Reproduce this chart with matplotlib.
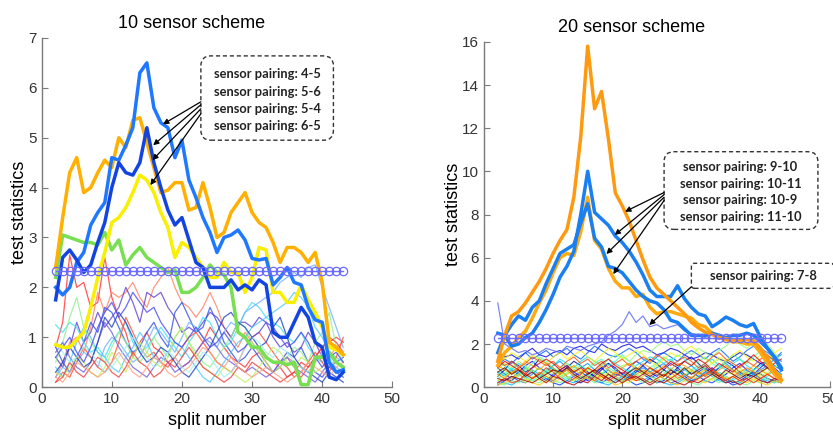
import numpy as np
import matplotlib.pyplot as plt
from matplotlib.patches import FancyBboxPatch

plt.rcParams['font.family'] = ['Liberation Sans', 'DejaVu Sans']

# split numbers shared by every series
splits = np.arange(2, 44)

# ---------------- 10 sensor scheme ----------------
left_thresh = 2.33
left_main = {
    'blue_45': [2.0, 1.85, 2.0, 2.5, 2.7, 3.25, 3.5, 3.7, 4.6, 4.55, 4.85, 5.2, 6.3, 6.5, 5.6, 5.3, 5.2, 4.6, 4.95,
                4.15, 3.8, 3.4, 3.1, 2.7, 3.0, 3.05, 3.15, 2.95, 2.58, 2.55, 2.58, 2.05, 2.2, 2.4, 2.1, 2.05, 1.6,
                1.35, 1.3, 0.5, 0.3, 0.35],
    'dblue_56': [1.75, 2.6, 2.75, 2.55, 2.3, 2.45, 2.9, 3.3, 4.0, 4.5, 4.3, 4.25, 4.5, 5.2, 4.5, 4.0, 3.55, 3.25, 3.4,
                 2.95, 2.5, 2.4, 2.0, 2.0, 2.0, 2.15, 1.95, 2.05, 1.95, 2.15, 2.05, 1.1, 1.0, 1.0, 1.3, 1.6, 1.4,
                 0.9, 0.8, 0.2, 0.15, 0.3],
    'orange': [2.4, 3.4, 4.3, 4.6, 3.9, 4.0, 4.3, 4.55, 4.4, 5.0, 4.8, 5.35, 5.4, 4.9, 4.4, 3.9, 3.95, 4.1, 4.1, 3.55,
               3.6, 4.1, 3.6, 3.0, 3.1, 3.5, 3.7, 3.9, 3.5, 3.3, 3.2, 2.9, 2.5, 2.8, 2.8, 2.7, 2.5, 2.7, 2.1, 0.9,
               0.8, 0.65],
    'yellow': [0.85, 0.8, 0.8, 0.95, 1.1, 1.6, 2.2, 2.7, 3.3, 3.4, 3.6, 3.9, 4.25, 4.15, 3.9, 3.5, 3.2, 2.6, 2.9, 2.8,
               2.6, 2.4, 2.2, 2.2, 2.5, 2.3, 2.3, 1.9, 2.2, 2.8, 2.75, 1.9, 1.9, 1.7, 1.7, 2.05, 1.75, 1.5, 1.2, 0.8,
               0.75, 0.65],
    'green': [2.2, 3.05, 3.0, 2.95, 2.9, 2.9, 2.85, 3.1, 2.75, 2.95, 2.45, 2.65, 2.8, 2.6, 2.5, 2.4, 2.3, 2.35, 1.9,
              1.9, 2.0, 2.2, 2.45, 2.3, 2.25, 2.0, 1.1, 1.0, 0.8, 0.8, 0.6, 0.5, 0.5, 0.45, 0.5, 0.05, 0.05, 0.6,
              0.6, 0.7, 0.5, 0.4],
}
left_main_colors = {'blue_45': '#1f78ff', 'dblue_56': '#1444e0', 'orange': '#ffb000',
                    'yellow': '#f8f000', 'green': '#78e050'}

left_thin = [
    [0.8, 1.3, 2.65, 2.0, 2.1, 1.6, 1.7, 2.6, 1.8, 1.4, 1.1, 0.6, 0.9, 1.1, 0.8, 0.7, 0.5, 0.6, 0.4, 0.5, 0.7, 0.9, 1.2, 1.0, 0.8, 0.6, 0.5, 0.4, 0.6, 0.7, 0.5, 0.3, 0.4, 0.2, 0.3, 0.5, 0.4, 0.6, 0.8, 0.9, 1.0, 0.9],
    [0.2, 0.5, 0.9, 1.0, 0.7, 1.2, 1.9, 1.5, 1.9, 1.8, 1.9, 2.1, 1.8, 1.6, 2.0, 2.2, 2.4, 2.0, 1.7, 1.6, 1.4, 1.6, 1.9, 1.6, 1.2, 1.0, 0.8, 1.1, 0.9, 0.7, 0.6, 0.5, 0.4, 0.6, 0.5, 0.4, 0.3, 0.5, 0.7, 0.6, 0.8, 0.9],
    [0.6, 0.4, 0.8, 1.3, 0.9, 1.1, 1.5, 1.2, 1.4, 1.6, 2.0, 1.7, 1.3, 1.9, 1.8, 1.9, 1.6, 1.4, 1.1, 1.2, 1.1, 1.3, 1.5, 1.4, 1.2, 1.0, 1.3, 1.3, 1.2, 1.4, 1.3, 1.0, 0.8, 0.9, 0.7, 0.8, 1.1, 0.9, 0.6, 0.4, 0.5, 0.6],
    [0.8, 0.5, 0.3, 0.6, 0.9, 1.3, 1.1, 1.6, 1.5, 1.2, 0.9, 0.7, 0.8, 1.1, 1.3, 1.0, 0.8, 1.5, 1.7, 1.4, 1.1, 1.2, 1.6, 1.3, 0.9, 0.7, 0.5, 0.6, 0.8, 0.6, 0.4, 0.3, 0.5, 0.7, 0.6, 0.8, 0.5, 0.3, 0.2, 0.4, 0.3, 0.2],
    [1.25, 1.1, 1.3, 1.2, 0.9, 0.7, 0.8, 0.6, 0.9, 1.1, 1.3, 0.9, 0.7, 0.8, 1.0, 1.2, 1.0, 0.8, 0.6, 0.9, 1.1, 1.4, 1.3, 1.0, 0.8, 0.9, 1.2, 1.5, 1.7, 1.6, 1.4, 1.3, 1.2, 1.0, 0.9, 1.1, 0.8, 0.6, 0.5, 0.7, 0.6, 0.5],
    [0.2, 0.4, 0.3, 0.5, 0.7, 0.6, 0.4, 0.8, 1.0, 0.9, 0.7, 0.5, 0.6, 0.9, 1.2, 1.1, 0.9, 0.7, 1.0, 1.3, 1.2, 1.0, 0.9, 0.8, 1.1, 1.3, 1.2, 1.5, 1.6, 1.7, 1.8, 1.9, 2.1, 2.2, 2.3, 2.2, 2.4, 2.45, 2.0, 1.6, 1.2, 0.8],
    [0.5, 0.9, 1.4, 1.8, 1.2, 0.9, 0.7, 0.5, 0.8, 1.1, 0.9, 0.6, 0.5, 0.7, 1.0, 0.8, 0.6, 1.0, 1.2, 0.9, 0.7, 0.5, 0.4, 0.6, 0.8, 1.0, 1.3, 1.2, 0.9, 0.7, 0.5, 0.3, 0.4, 0.6, 0.8, 0.7, 0.5, 0.9, 1.1, 1.5, 0.8, 0.5],
    [0.1, 0.3, 0.2, 0.5, 0.8, 0.6, 0.4, 0.3, 0.5, 0.9, 1.4, 1.1, 0.8, 0.6, 0.7, 0.5, 0.4, 0.6, 0.8, 1.0, 1.1, 0.9, 0.7, 0.5, 0.4, 0.3, 0.5, 0.8, 1.0, 1.1, 0.9, 0.7, 0.5, 0.4, 0.2, 0.3, 0.5, 0.7, 0.5, 0.3, 0.6, 1.0],
    [0.7, 0.9, 0.6, 0.4, 0.3, 0.5, 0.9, 1.3, 1.1, 0.8, 0.6, 0.4, 0.3, 0.2, 0.4, 0.6, 0.5, 0.3, 0.4, 0.5, 0.7, 0.9, 1.0, 0.8, 0.6, 0.5, 0.4, 0.3, 0.4, 0.3, 0.2, 0.3, 0.5, 0.6, 0.4, 0.3, 0.2, 0.1, 0.3, 0.5, 0.4, 0.3],
    [0.4, 0.2, 0.5, 0.9, 1.2, 1.0, 0.7, 0.6, 0.4, 0.3, 0.6, 0.8, 1.1, 0.9, 0.6, 0.5, 0.7, 0.9, 0.8, 0.6, 0.4, 0.2, 0.1, 0.3, 0.5, 0.7, 0.9, 1.0, 1.2, 1.3, 1.4, 1.5, 1.6, 1.7, 1.9, 1.8, 1.6, 1.2, 1.0, 0.7, 0.5, 0.4],
    [0.3, 0.2, 0.4, 0.6, 0.5, 0.3, 0.2, 0.4, 0.7, 0.5, 0.3, 0.6, 0.9, 0.7, 0.5, 0.4, 0.6, 1.0, 1.2, 0.9, 0.6, 0.4, 0.3, 0.2, 0.4, 0.3, 0.2, 0.1, 0.2, 0.4, 0.6, 0.8, 0.7, 0.5, 0.4, 0.6, 0.5, 0.3, 0.4, 0.6, 0.5, 0.4],
    [0.1, 0.2, 0.5, 0.3, 0.2, 0.4, 0.6, 0.5, 0.3, 0.2, 0.4, 0.7, 0.5, 0.4, 0.2, 0.3, 0.5, 0.4, 0.6, 0.8, 0.6, 0.4, 0.3, 0.2, 0.1, 0.2, 0.4, 0.3, 0.5, 0.4, 0.3, 0.2, 0.1, 0.2, 0.3, 0.2, 0.4, 0.6, 0.8, 1.0, 0.9, 0.7],
    [0.3, 0.5, 0.8, 0.6, 0.4, 0.5, 0.9, 1.4, 1.2, 1.5, 1.3, 1.0, 0.7, 0.5, 0.6, 0.8, 0.7, 0.5, 0.3, 0.2, 0.4, 0.6, 0.8, 1.1, 1.4, 1.5, 1.3, 1.2, 1.0, 0.8, 0.9, 1.2, 1.4, 1.0, 0.6, 0.4, 0.3, 0.2, 0.1, 0.3, 0.2, 0.1],
    [0.9, 0.7, 0.5, 0.6, 0.8, 0.7, 0.5, 0.3, 0.4, 0.6, 0.8, 1.0, 0.8, 0.6, 0.4, 0.5, 0.7, 0.6, 0.4, 0.3, 0.5, 0.7, 0.6, 0.4, 0.2, 0.3, 0.5, 0.8, 1.0, 0.9, 0.7, 0.6, 0.8, 0.7, 0.5, 0.4, 0.3, 0.5, 0.7, 0.6, 0.4, 0.3],
    [0.2, 0.1, 0.3, 0.5, 0.4, 0.3, 0.2, 0.3, 0.5, 0.7, 0.5, 0.3, 0.2, 0.4, 0.6, 0.5, 0.3, 0.2, 0.3, 0.4, 0.6, 0.8, 0.7, 0.5, 0.4, 0.6, 0.4, 0.3, 0.2, 0.3, 0.4, 0.3, 0.2, 0.1, 0.2, 0.3, 0.5, 0.4, 0.3, 0.2, 0.4, 0.5],
    [0.6, 0.8, 1.0, 0.7, 0.5, 0.8, 1.2, 1.5, 1.7, 1.4, 1.6, 1.9, 1.7, 1.5, 1.6, 1.3, 1.1, 0.9, 0.8, 1.0, 1.2, 1.0, 0.8, 0.9, 1.1, 0.9, 0.7, 0.8, 1.0, 1.1, 1.3, 1.2, 1.0, 0.8, 0.9, 1.1, 0.9, 0.6, 0.4, 0.6, 0.7, 0.5],
]
left_thin_colors = ['#ff3030', '#ff8060', '#6040d0', '#3050e0', '#40e0f0', '#70b0ff', '#90f090', '#ff5030',
                    '#7060e0', '#50c8ff', '#c0f060', '#f04040', '#2040c0', '#a0f0f0', '#ffa080', '#4848f0']
left_labels = ['sensor pairing: 4-5', 'sensor pairing: 5-6', 'sensor pairing: 5-4', 'sensor pairing: 6-5']

# ---------------- 20 sensor scheme ----------------
right_thresh = 2.3
right_main = {
    'orange_big': [1.2, 2.4, 3.3, 3.5, 3.9, 4.4, 4.9, 5.5, 6.2, 6.8, 7.3, 8.8, 11.6, 15.8, 12.9, 13.7, 11.5, 9.0, 8.4,
                   7.7, 6.8, 5.9, 5.1, 4.6, 4.3, 4.0, 3.7, 3.4, 3.0, 2.75, 2.55, 2.45, 2.3, 2.25, 2.2, 2.2, 2.2,
                   2.15, 1.8, 1.35, 0.8, 0.35],
    'blue_peak': [1.6, 2.4, 1.9, 2.0, 2.3, 2.5, 3.0, 3.6, 4.3, 5.1, 5.6, 6.3, 8.0, 10.0, 8.1, 7.8, 7.5, 7.0, 6.7, 6.3,
                  5.8, 5.2, 4.5, 4.2, 4.2, 4.2, 4.7, 4.1, 3.7, 3.4, 3.3, 2.8, 3.0, 3.25, 3.1, 2.9, 2.8, 2.95, 2.3,
                  1.8, 1.4, 0.8],
    'blue_low': [2.5, 2.4, 2.9, 3.3, 3.1, 3.7, 4.0, 4.8, 5.5, 6.2, 6.4, 6.6, 7.6, 8.5, 6.9, 6.5, 5.6, 5.5, 5.3, 4.9,
                 4.5, 4.2, 4.0, 3.9, 3.6, 3.1, 3.0, 2.7, 2.4, 2.4, 2.4, 2.5, 2.4, 2.3, 2.4, 2.4, 2.5, 2.4, 2.1, 1.8,
                 1.4, 0.9],
    'orange_low': [1.0, 1.6, 1.9, 2.3, 2.6, 3.2, 3.9, 4.5, 5.3, 6.0, 6.2, 6.1, 7.2, 8.8, 6.8, 6.4, 5.5, 4.9, 4.6, 4.6,
                   4.2, 4.3, 3.7, 3.4, 3.5, 3.5, 3.4, 3.3, 3.2, 2.9, 2.8, 2.5, 2.3, 2.2, 2.1, 2.1, 2.0, 2.0, 1.6,
                   1.1, 0.6, 0.3],
}
right_main_colors = {'orange_big': '#ff9a10', 'blue_peak': '#1a7ff0', 'blue_low': '#1a7ff0',
                     'orange_low': '#ffaa10'}
right_pair_78 = [3.9, 2.0, 1.8, 1.6, 1.7, 1.5, 1.6, 1.8, 1.7, 1.6, 1.9, 1.8, 1.7, 1.9, 2.0, 2.1, 2.4, 2.6, 2.9, 3.5,
                 3.0, 3.3, 2.8, 2.9, 2.7, 2.8, 2.9, 2.6, 2.5, 2.4, 2.3, 2.4, 2.2, 2.3, 2.1, 2.2, 2.0, 2.1, 1.8, 1.6,
                 1.4, 1.2]

right_thin = [
    [0.5, 0.8, 1.2, 1.0, 0.7, 0.9, 1.3, 1.1, 0.8, 0.6, 0.9, 1.2, 1.0, 0.7, 0.5, 0.8, 1.1, 0.9, 0.6, 0.4, 0.7, 1.0, 1.3, 1.1, 0.8, 0.6, 0.9, 1.2, 1.4, 1.1, 0.8, 0.6, 0.9, 1.2, 1.0, 0.7, 0.5, 0.8, 1.1, 0.9, 0.7, 0.5],
    [0.2, 0.4, 0.3, 0.6, 0.9, 0.7, 0.5, 0.3, 0.6, 0.8, 0.5, 0.3, 0.2, 0.4, 0.7, 0.9, 0.6, 0.4, 0.3, 0.5, 0.8, 0.6, 0.4, 0.2, 0.3, 0.6, 0.8, 0.5, 0.3, 0.4, 0.7, 0.9, 0.6, 0.4, 0.2, 0.3, 0.5, 0.7, 0.6, 0.4, 0.3, 0.2],
    [1.6, 1.4, 1.5, 1.3, 1.6, 1.8, 1.5, 1.4, 1.6, 1.7, 1.5, 1.8, 1.9, 1.7, 1.6, 2.0, 1.8, 1.7, 1.9, 2.0, 1.8, 1.9, 1.7, 1.5, 1.6, 1.8, 1.7, 1.5, 1.3, 1.4, 1.6, 1.5, 1.3, 1.2, 1.4, 1.6, 1.5, 1.3, 1.1, 1.2, 1.0, 0.8],
    [0.9, 0.6, 0.4, 0.7, 1.0, 1.2, 0.9, 0.7, 0.5, 0.8, 1.0, 0.7, 0.5, 0.3, 0.6, 0.9, 1.1, 0.8, 0.6, 0.9, 1.2, 1.0, 0.7, 0.5, 0.8, 1.1, 0.9, 0.6, 0.4, 0.7, 0.9, 0.6, 0.4, 0.6, 0.9, 1.1, 0.8, 0.6, 0.9, 1.2, 0.9, 0.6],
    [0.1, 0.3, 0.5, 0.3, 0.2, 0.4, 0.6, 0.4, 0.2, 0.1, 0.3, 0.5, 0.7, 0.5, 0.3, 0.2, 0.4, 0.6, 0.5, 0.3, 0.1, 0.2, 0.4, 0.6, 0.4, 0.2, 0.3, 0.5, 0.7, 0.5, 0.3, 0.2, 0.4, 0.3, 0.1, 0.2, 0.4, 0.6, 0.4, 0.2, 0.3, 0.5],
    [1.0, 1.3, 1.1, 1.4, 1.6, 1.3, 1.5, 1.7, 1.4, 1.6, 1.8, 1.5, 1.3, 1.6, 1.9, 1.7, 1.5, 1.4, 1.6, 1.8, 1.6, 1.3, 1.1, 1.4, 1.6, 1.4, 1.2, 1.5, 1.7, 1.5, 1.3, 1.6, 1.8, 1.5, 1.2, 1.4, 1.7, 1.9, 1.6, 1.4, 1.3, 1.6],
    [0.7, 0.5, 0.8, 0.6, 0.4, 0.6, 0.9, 0.7, 1.0, 1.2, 0.9, 0.7, 0.9, 1.1, 0.8, 0.6, 0.8, 0.5, 0.3, 0.5, 0.7, 0.9, 0.7, 0.9, 1.1, 0.8, 0.6, 0.8, 1.0, 0.7, 0.5, 0.7, 0.9, 1.1, 0.8, 0.6, 0.4, 0.6, 0.8, 1.0, 1.3, 1.5],
    [0.3, 0.2, 0.1, 0.3, 0.5, 0.8, 0.6, 0.4, 0.3, 0.5, 0.3, 0.2, 0.4, 0.6, 0.4, 0.2, 0.1, 0.3, 0.5, 0.7, 0.5, 0.3, 0.5, 0.4, 0.2, 0.1, 0.2, 0.4, 0.3, 0.5, 0.7, 0.5, 0.3, 0.2, 0.4, 0.6, 0.8, 0.6, 0.4, 0.3, 0.2, 0.4],
    [1.2, 1.0, 0.8, 1.1, 0.9, 0.7, 0.5, 0.8, 1.0, 1.3, 1.1, 0.9, 1.2, 1.4, 1.2, 1.0, 1.3, 1.1, 0.9, 0.7, 1.0, 1.2, 1.4, 1.3, 1.1, 1.3, 1.0, 0.8, 0.6, 0.9, 1.1, 1.3, 1.0, 0.8, 1.1, 1.3, 1.0, 0.8, 1.0, 1.2, 1.0, 0.8],
    [0.4, 0.6, 0.9, 0.7, 0.5, 0.3, 0.5, 0.7, 0.9, 0.6, 0.4, 0.6, 0.3, 0.5, 0.8, 0.6, 0.9, 0.7, 0.5, 0.8, 0.6, 0.4, 0.2, 0.4, 0.6, 0.9, 0.7, 0.5, 0.8, 1.0, 0.8, 0.5, 0.7, 0.5, 0.3, 0.5, 0.7, 0.5, 0.3, 0.5, 0.8, 0.6],
    [0.6, 0.9, 0.7, 0.5, 0.8, 1.1, 1.4, 1.2, 0.9, 0.7, 0.6, 0.8, 1.0, 0.8, 1.1, 1.3, 1.0, 1.2, 1.5, 1.2, 0.9, 0.7, 0.9, 1.1, 1.4, 1.2, 1.5, 1.3, 1.0, 1.2, 1.4, 1.1, 0.9, 1.2, 1.5, 1.3, 1.1, 1.4, 1.7, 1.5, 1.2, 1.0],
    [0.2, 0.1, 0.3, 0.2, 0.4, 0.3, 0.2, 0.5, 0.3, 0.2, 0.4, 0.3, 0.5, 0.4, 0.2, 0.3, 0.2, 0.4, 0.3, 0.6, 0.4, 0.2, 0.3, 0.2, 0.4, 0.3, 0.5, 0.3, 0.2, 0.1, 0.3, 0.4, 0.2, 0.5, 0.3, 0.2, 0.1, 0.3, 0.2, 0.4, 0.2, 0.3],
    [0.5, 0.7, 0.4, 0.6, 0.9, 0.7, 0.5, 0.8, 0.6, 0.9, 1.1, 0.8, 0.6, 0.9, 1.2, 1.0, 1.3, 1.5, 1.4, 1.2, 1.5, 1.7, 1.6, 1.9, 2.1, 1.9, 2.0, 1.7, 1.5, 1.8, 1.6, 1.4, 1.7, 1.9, 2.2, 2.0, 1.8, 2.1, 2.4, 2.0, 1.6, 1.2],
    [0.8, 1.1, 0.9, 1.2, 1.0, 0.7, 0.9, 0.6, 0.8, 0.5, 0.7, 1.0, 0.8, 0.6, 0.4, 0.7, 0.5, 0.8, 1.0, 1.1, 0.9, 0.6, 0.8, 1.0, 0.7, 0.5, 0.3, 0.6, 0.8, 0.6, 0.9, 1.1, 1.3, 1.0, 0.7, 0.9, 0.6, 0.8, 0.5, 0.7, 0.9, 1.1],
    [0.3, 0.5, 0.7, 0.4, 0.2, 0.5, 0.3, 0.6, 0.4, 0.7, 0.5, 0.3, 0.6, 0.8, 0.6, 0.4, 0.7, 0.5, 0.3, 0.2, 0.5, 0.7, 0.5, 0.3, 0.6, 0.4, 0.7, 0.9, 0.7, 0.4, 0.6, 0.3, 0.5, 0.7, 0.6, 0.8, 0.5, 0.3, 0.6, 0.9, 0.7, 0.5],
    [1.5, 1.3, 1.6, 1.4, 1.2, 1.5, 1.3, 1.1, 1.4, 1.6, 1.3, 1.5, 1.7, 1.4, 1.2, 1.5, 1.8, 1.6, 1.3, 1.5, 1.7, 1.5, 1.2, 1.0, 1.3, 1.6, 1.4, 1.7, 1.9, 1.6, 1.3, 1.1, 1.4, 1.2, 1.5, 1.7, 1.4, 1.2, 1.5, 1.3, 1.6, 1.8],
    [0.1, 0.2, 0.4, 0.6, 0.4, 0.2, 0.1, 0.3, 0.2, 0.4, 0.6, 0.8, 0.6, 0.4, 0.3, 0.5, 0.3, 0.1, 0.2, 0.4, 0.3, 0.5, 0.7, 0.6, 0.4, 0.2, 0.1, 0.3, 0.5, 0.3, 0.2, 0.4, 0.6, 0.4, 0.5, 0.3, 0.2, 0.4, 0.2, 0.1, 0.3, 0.2],
    [1.0, 0.8, 0.6, 0.9, 1.2, 1.0, 0.8, 1.1, 0.9, 0.6, 0.8, 1.0, 0.7, 0.9, 0.7, 1.0, 0.8, 0.6, 0.9, 1.1, 0.8, 1.1, 0.9, 0.7, 1.0, 0.8, 1.1, 1.0, 0.8, 0.6, 0.8, 0.6, 0.8, 1.0, 0.8, 0.5, 0.7, 1.0, 0.8, 0.6, 0.4, 0.6],
    [0.6, 0.4, 0.7, 0.9, 0.6, 0.4, 0.7, 0.5, 0.3, 0.6, 0.8, 0.5, 0.3, 0.5, 0.3, 0.6, 0.4, 0.7, 0.5, 0.3, 0.6, 0.8, 0.6, 0.8, 0.5, 0.7, 0.4, 0.6, 0.4, 0.7, 0.5, 0.8, 0.6, 0.3, 0.5, 0.7, 0.9, 0.7, 0.4, 0.6, 0.8, 0.5],
    [1.3, 1.0, 1.2, 0.9, 1.1, 1.4, 1.2, 1.0, 1.2, 0.9, 1.2, 1.4, 1.1, 1.3, 1.0, 1.2, 0.9, 1.1, 1.3, 1.0, 1.2, 1.4, 1.2, 1.5, 1.3, 1.0, 1.2, 1.4, 1.2, 0.9, 1.1, 1.4, 1.6, 1.3, 1.1, 0.9, 1.2, 1.0, 1.3, 1.5, 1.2, 0.9],
    [0.2, 0.4, 0.2, 0.3, 0.6, 0.4, 0.6, 0.9, 0.7, 0.4, 0.2, 0.4, 0.6, 0.9, 0.7, 0.5, 0.3, 0.5, 0.7, 0.5, 0.3, 0.4, 0.2, 0.4, 0.6, 0.4, 0.6, 0.4, 0.2, 0.4, 0.6, 0.8, 0.5, 0.3, 0.5, 0.3, 0.4, 0.2, 0.4, 0.6, 0.4, 0.3],
    [0.9, 1.2, 1.0, 0.8, 0.6, 0.9, 1.1, 1.3, 1.1, 0.8, 1.0, 0.7, 0.9, 0.6, 0.8, 1.1, 1.3, 1.0, 0.8, 0.6, 0.4, 0.6, 0.9, 0.7, 0.9, 1.2, 1.0, 1.2, 1.0, 1.3, 1.1, 0.8, 1.1, 0.9, 0.7, 1.0, 1.2, 1.5, 1.2, 0.9, 1.1, 1.3],
    [0.4, 0.3, 0.5, 0.4, 0.3, 0.2, 0.4, 0.2, 0.5, 0.4, 0.2, 0.1, 0.3, 0.2, 0.5, 0.3, 0.6, 0.4, 0.2, 0.4, 0.5, 0.3, 0.1, 0.3, 0.2, 0.4, 0.2, 0.1, 0.3, 0.2, 0.4, 0.6, 0.4, 0.2, 0.3, 0.1, 0.3, 0.5, 0.3, 0.2, 0.4, 0.3],
    [0.7, 0.9, 0.6, 0.8, 0.5, 0.7, 0.4, 0.6, 0.8, 0.7, 0.9, 0.6, 0.4, 0.6, 0.8, 0.6, 0.4, 0.2, 0.4, 0.7, 0.9, 0.7, 0.5, 0.7, 0.5, 0.8, 0.6, 0.9, 0.6, 0.8, 1.0, 0.7, 0.5, 0.8, 0.6, 0.4, 0.6, 0.5, 0.7, 0.9, 0.6, 0.4],
]
right_labels = ['sensor pairing: 9-10', 'sensor pairing: 10-11', 'sensor pairing: 10-9', 'sensor pairing: 11-10']
right_label_78 = 'sensor pairing: 7-8'

box_font = ['Lato', 'DejaVu Sans']
box_size = 9.3


def style_axes(ax, ymax, ystep):
    ax.set_xlim(0, 50)
    ax.set_ylim(0, ymax)
    ax.set_xticks(range(0, 51, 10))
    ax.set_yticks(range(0, ymax + 1, ystep))
    for s in ['top', 'right']:
        ax.spines[s].set_visible(False)
    for s in ['left', 'bottom']:
        ax.spines[s].set_color('#7a7a7a')
        ax.spines[s].set_linewidth(1.0)
    ax.tick_params(direction='in', length=4, color='#7a7a7a', labelsize=11, labelcolor='#333333')
    ax.set_xlabel('split number', fontsize=13, labelpad=4)
    ax.set_ylabel('test statistics', fontsize=13, labelpad=0)


def dashed_box(ax, x0, y0, x1, y1, round_px):
    # rounded dashed frame, rounding corrected for the axes aspect
    bb = ax.get_window_extent()
    xpx = bb.width / (ax.get_xlim()[1] - ax.get_xlim()[0])
    ypx = bb.height / (ax.get_ylim()[1] - ax.get_ylim()[0])
    box = FancyBboxPatch((x0, y0), x1 - x0, y1 - y0,
                         boxstyle='round,pad=0,rounding_size=%f' % (round_px / xpx),
                         mutation_aspect=xpx / ypx, fill=False, ec='#333333', lw=1.0,
                         ls=(0, (3, 2)), clip_on=False, zorder=6)
    ax.add_patch(box)


def arrow(ax, tip, start):
    ax.annotate('', xy=tip, xytext=start,
                arrowprops=dict(arrowstyle='-|>', color='black', lw=0.9, mutation_scale=8,
                                shrinkA=0, shrinkB=0), zorder=7)


fig = plt.figure(figsize=(8.33, 4.36), dpi=100)
ax1 = fig.add_axes([0.050, 0.112, 0.421, 0.801])
ax2 = fig.add_axes([0.581, 0.112, 0.415, 0.792])

# ---- left panel ----
for vals, c in zip(left_thin, left_thin_colors):
    ax1.plot(splits[:len(vals)], vals, color=c, lw=0.9, alpha=0.8, zorder=2)
for key in ['green', 'yellow', 'orange', 'blue_45', 'dblue_56']:
    vals = left_main[key]
    ax1.plot(splits[:len(vals)], vals, color=left_main_colors[key], lw=2.5, zorder=3)
ax1.plot(splits, np.full(len(splits), left_thresh), color='#7070ff', lw=1.0, marker='o', ms=6,
         mfc='none', mec='#6a6aff', mew=0.9, zorder=4)
style_axes(ax1, 7, 1)
ax1.set_title('10 sensor scheme', fontsize=13, x=0.428, pad=7)

dashed_box(ax1, 22.7, 4.95, 41.6, 6.64, 10)
for i, lab in enumerate(left_labels):
    ax1.text(32.2, 6.27 - i * 0.345, lab, fontsize=box_size, fontweight='bold', ha='center', va='center',
             family=box_font, color='#222222', zorder=7)
for tip, y0 in zip([(17.3, 5.27), (15.9, 4.85), (15.8, 4.55), (15.5, 4.05)], [5.72, 5.66, 5.58, 5.48]):
    arrow(ax1, tip, (22.7, y0))

# ---- right panel ----
for i, vals in enumerate(right_thin):
    ax2.plot(splits[:len(vals)], vals, color=plt.cm.jet(i / (len(right_thin) - 1)), lw=0.8, alpha=0.8, zorder=2)
ax2.plot(splits[:len(right_pair_78)], right_pair_78, color='#5a6af0', lw=0.9, alpha=0.8, zorder=2)
for key in ['orange_low', 'blue_low', 'blue_peak', 'orange_big']:
    vals = right_main[key]
    ax2.plot(splits[:len(vals)], vals, color=right_main_colors[key], lw=2.5, zorder=3)
ax2.plot(splits, np.full(len(splits), right_thresh), color='#7070ff', lw=1.0, marker='o', ms=6,
         mfc='none', mec='#6a6aff', mew=0.9, zorder=4)
style_axes(ax2, 16, 2)
ax2.set_title('20 sensor scheme', fontsize=13, x=0.427, pad=7)

dashed_box(ax2, 26.05, 7.31, 48.3, 10.91, 10)
for i, lab in enumerate(right_labels):
    ax2.text(37.1, 10.22 - i * 0.785, lab, fontsize=box_size, fontweight='bold', ha='center', va='center',
             family=box_font, color='#222222', zorder=7)
for tip, y0 in zip([(20.4, 8.13), (18.9, 7.05), (17.7, 6.17), (18.7, 5.24)], [9.02, 8.92, 8.8, 8.65]):
    arrow(ax2, tip, (26.05, y0))

dashed_box(ax2, 30.0, 4.58, 50.6, 5.74, 3)
ax2.text(40.4, 5.13, right_label_78, fontsize=box_size, fontweight='bold', ha='center', va='center',
         family=box_font, color='#222222', zorder=7)
arrow(ax2, (23.9, 2.88), (30.0, 4.65))

fig.savefig('out.png', dpi=100)
